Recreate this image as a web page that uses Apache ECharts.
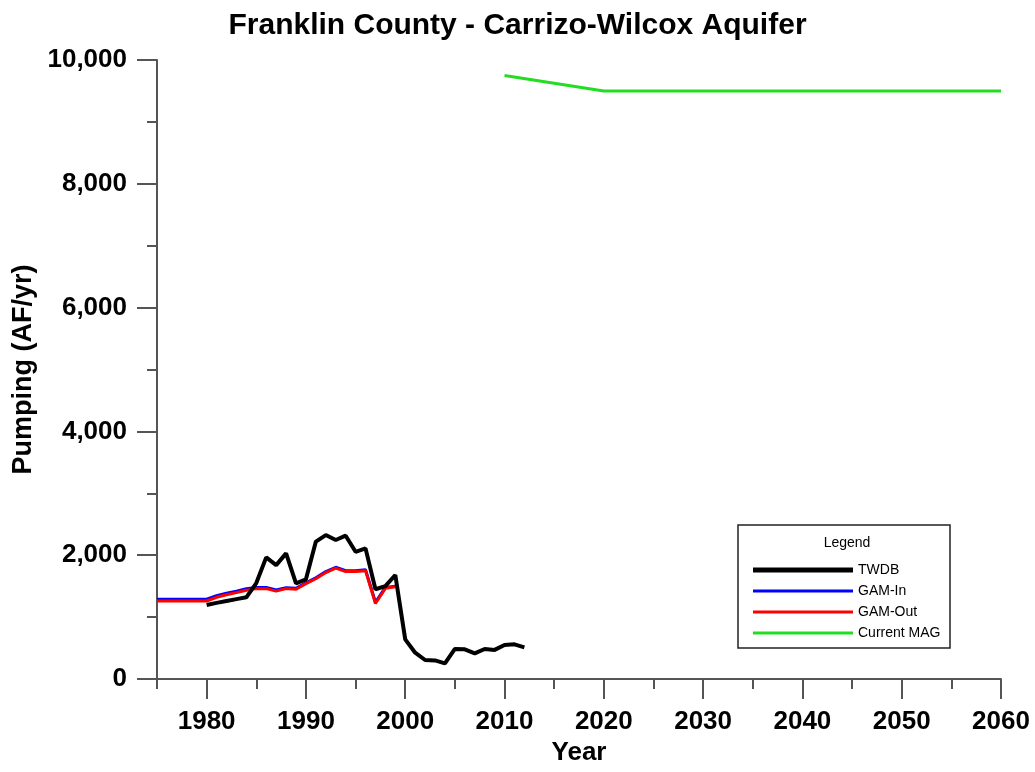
<!DOCTYPE html>
<html>
<head>
<meta charset="utf-8">
<script src="https://cdn.jsdelivr.net/npm/echarts@6/dist/echarts.min.js"></script>
<style>
html,body{margin:0;padding:0;background:#fff;}
#chart{width:1035px;height:772px;}
</style>
</head>
<body>
<div id="chart"></div>
<script>
// ---- data ----
var twdbYears = [1980,1981,1982,1983,1984,1985,1986,1987,1988,1989,1990,1991,1992,1993,1994,1995,1996,1997,1998,1999,2000,2001,2002,2003,2004,2005,2006,2007,2008,2009,2010,2011,2012];
var twdbValues = [1195,1230,1260,1290,1320,1550,1965,1840,2030,1545,1610,2220,2325,2245,2315,2055,2110,1450,1500,1680,640,425,307,300,253,485,480,415,485,470,550,560,512];
var gamYears = [1975,1976,1977,1978,1979,1980,1981,1982,1983,1984,1985,1986,1987,1988,1989,1990,1991,1992,1993,1994,1995,1996,1997,1998,1999];
var gamInValues = [1290,1290,1290,1290,1290,1290,1345,1385,1420,1460,1480,1480,1440,1475,1465,1555,1635,1735,1805,1750,1750,1765,1240,1480,1500];
var gamOutValues = [1260,1260,1260,1260,1260,1260,1320,1360,1395,1435,1460,1460,1420,1460,1450,1540,1620,1720,1790,1735,1735,1750,1220,1465,1490];
var magYears = [2010,2020,2030,2040,2050,2060];
var magValues = [9750,9500,9500,9500,9500,9500];
var xMajorTicks = [1980,1990,2000,2010,2020,2030,2040,2050,2060];
var xMinorTicks = [1975,1985,1995,2005,2015,2025,2035,2045,2055];
var seriesNames = ['TWDB','GAM-In','GAM-Out','Current MAG'];
var titleText = 'Franklin County - Carrizo-Wilcox Aquifer';

function pairs(xs, ys){ return xs.map(function(x,i){ return [x, ys[i]]; }); }

var FONT = '"Liberation Sans", Arial, sans-serif';
var axisGrey = '#555';
var thickIcon = 'path://M0,0 L100,0 L100,5 L0,5 Z';
var thinIcon = 'path://M0,0 L100,0 L100,3 L0,3 Z';

var chart = echarts.init(document.getElementById('chart'), null, {renderer:'canvas'});
chart.setOption({
  animation:false,
  backgroundColor:'#fff',
  title:{
    text:titleText, left:'center', top:6,
    textStyle:{fontFamily:FONT, fontWeight:'bold', fontSize:30, color:'#000'}
  },
  grid:{left:157, right:34, top:60, bottom:93},
  xAxis:[{
    type:'value', min:1975, max:2060,
    name:'Year', nameLocation:'middle', nameGap:61,
    nameTextStyle:{fontFamily:FONT, fontWeight:'bold', fontSize:26, color:'#000'},
    axisLine:{show:true, onZero:false, lineStyle:{color:axisGrey, width:2}},
    axisTick:{show:true, customValues:xMajorTicks, length:20, lineStyle:{color:axisGrey, width:2}},
    axisLabel:{customValues:xMajorTicks, margin:30, fontFamily:FONT, fontWeight:'bold', fontSize:26, color:'#000',
      formatter:function(v){ return String(v); }},
    splitLine:{show:false}
  },{
    type:'value', min:1975, max:2060, position:'bottom',
    axisLine:{show:false},
    axisTick:{show:true, customValues:xMinorTicks, length:10, lineStyle:{color:axisGrey, width:2}},
    axisLabel:{show:false},
    splitLine:{show:false}
  }],
  yAxis:{
    type:'value', min:0, max:10000, interval:2000,
    name:'Pumping (AF/yr)', nameLocation:'middle', nameGap:120,
    nameTextStyle:{fontFamily:FONT, fontWeight:'bold', fontSize:27, color:'#000'},
    axisLine:{show:true, lineStyle:{color:axisGrey, width:2}},
    axisTick:{show:true, length:20, lineStyle:{color:axisGrey, width:2}},
    minorTick:{show:true, splitNumber:2, length:10, lineStyle:{color:axisGrey, width:2}},
    axisLabel:{margin:30, fontFamily:FONT, fontWeight:'bold', fontSize:26, color:'#000',
      formatter:function(v){ return v.toLocaleString('en-US'); }},
    splitLine:{show:false}
  },
  legend:{
    orient:'vertical', left:748, top:558,
    itemWidth:100, itemHeight:14, itemGap:7,
    symbolKeepAspect:true,
    textStyle:{fontFamily:FONT, fontSize:14, color:'#000'},
    data:[
      {name:seriesNames[0], icon:thickIcon},
      {name:seriesNames[1], icon:thinIcon},
      {name:seriesNames[2], icon:thinIcon},
      {name:seriesNames[3], icon:thinIcon}
    ]
  },
  graphic:[
    {type:'rect', shape:{x:738, y:525, width:212, height:123}, style:{fill:'none', stroke:'#222', lineWidth:1.5}, z:1},
    {type:'text', x:847, y:543, style:{text:'Legend', fontFamily:FONT, fontSize:14, fill:'#000', textAlign:'center', textVerticalAlign:'middle'}}
  ],
  series:[
    {name:seriesNames[0], type:'line', data:pairs(twdbYears, twdbValues), symbol:'none', z:5,
      lineStyle:{color:'#000', width:4}, itemStyle:{color:'#000'}},
    {name:seriesNames[1], type:'line', data:pairs(gamYears, gamInValues), symbol:'none', z:3,
      lineStyle:{color:'#0000ff', width:3}, itemStyle:{color:'#0000ff'}},
    {name:seriesNames[2], type:'line', data:pairs(gamYears, gamOutValues), symbol:'none', z:4,
      lineStyle:{color:'#ff0000', width:3}, itemStyle:{color:'#ff0000'}},
    {name:seriesNames[3], type:'line', data:pairs(magYears, magValues), symbol:'none', z:4,
      lineStyle:{color:'#22dd22', width:3}, itemStyle:{color:'#22dd22'}}
  ]
});
</script>
</body>
</html>
